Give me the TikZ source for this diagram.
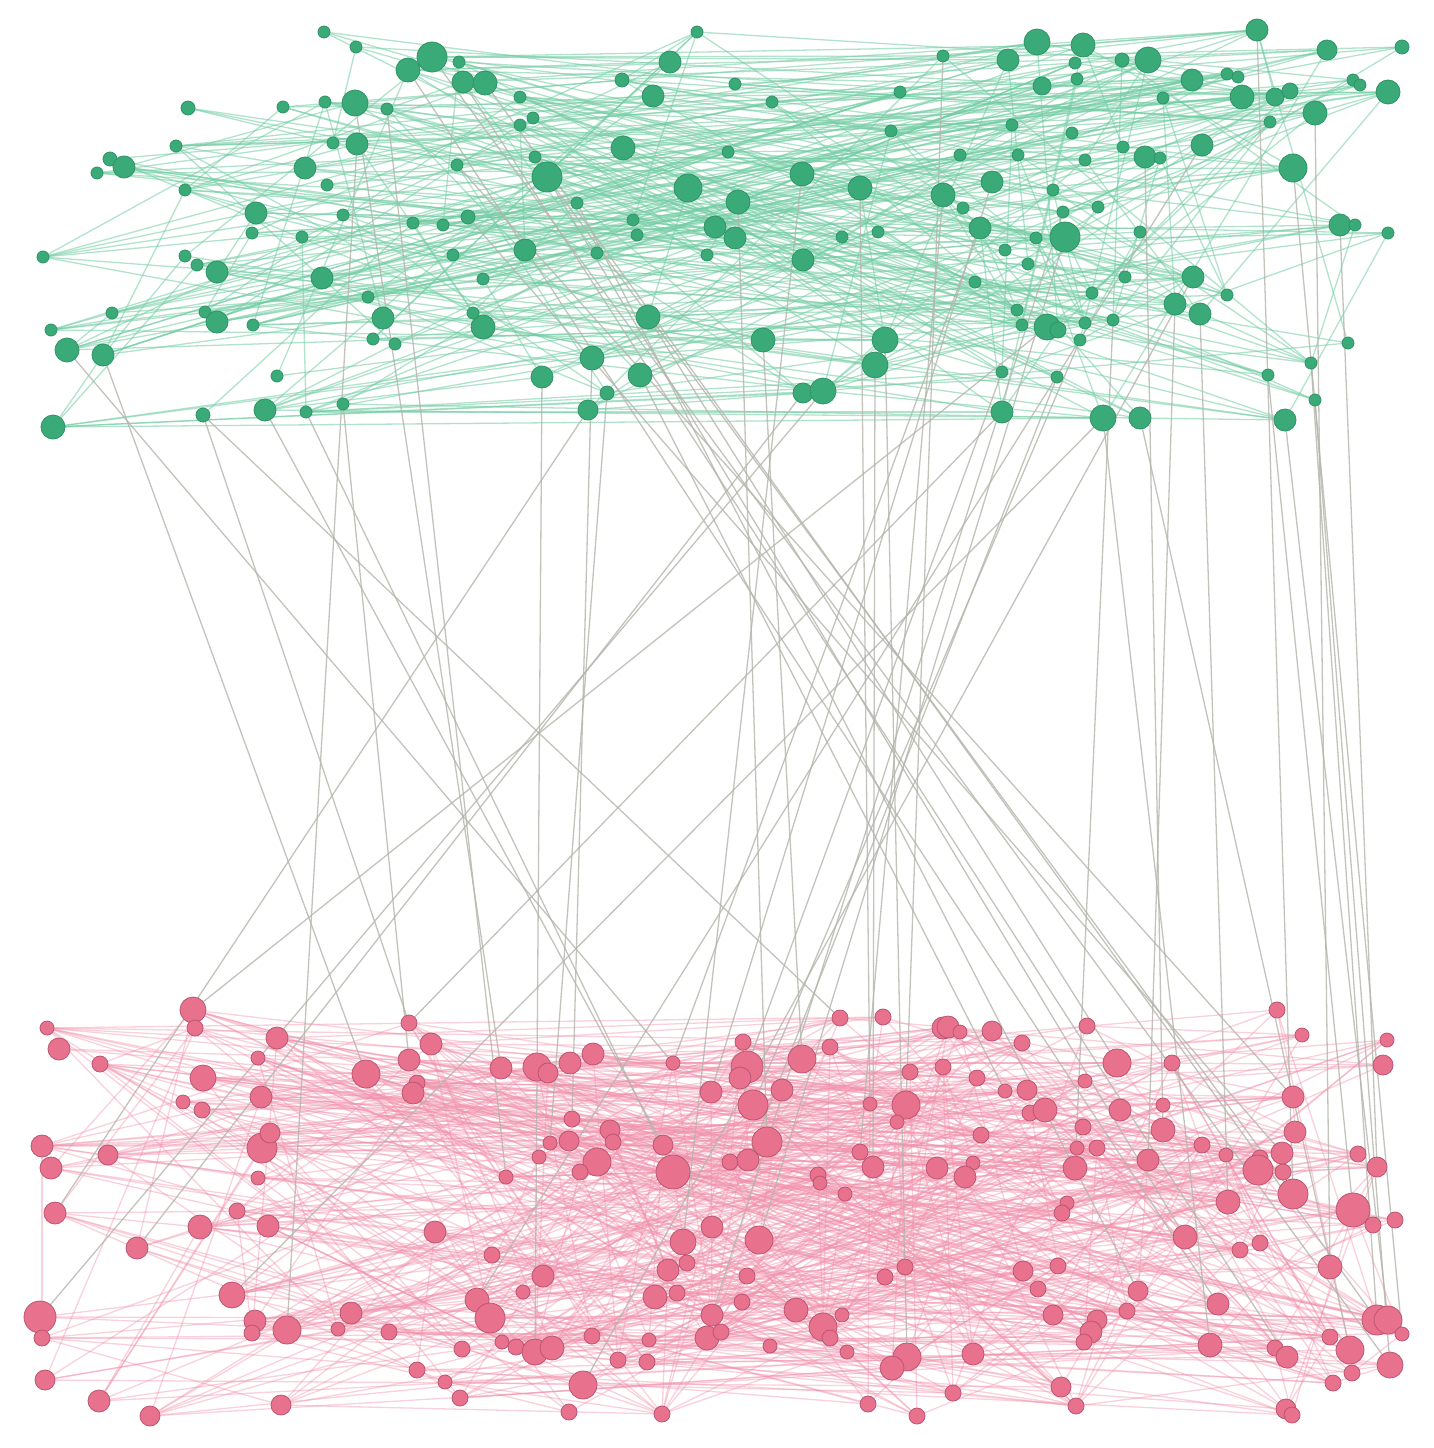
\documentclass[tikz,border=0pt]{standalone}
\pgfdeclarelayer{edgelayer}
\pgfsetlayers{edgelayer,main}
\definecolor{gfill}{HTML}{3AAA78}
\definecolor{gline}{HTML}{2F9465}
\definecolor{pfill}{HTML}{E8728E}
\definecolor{pline}{HTML}{BC5570}
\definecolor{gedgec}{HTML}{72CDA3}
\definecolor{pedgec}{HTML}{F290AB}
\definecolor{xedgec}{HTML}{B4B4AC}
\tikzset{
  gnode/.style={circle,fill=gfill,draw=gline,line width=0.8pt,inner sep=0pt,outer sep=0pt},
  pnode/.style={circle,fill=pfill,draw=pline,line width=0.8pt,inner sep=0pt,outer sep=0pt},
  gedge/.style={draw=gedgec,line width=1.3pt,opacity=0.55},
  pedge/.style={draw=pedgec,line width=1.3pt,opacity=0.42},
  xedge/.style={draw=xedgec,line width=1.3pt,opacity=0.8}
}
\begin{document}
\begin{tikzpicture}[x=1pt,y=-1pt]
\useasboundingbox (0,0) rectangle (1434,1448);
% green layer nodes
\foreach \i/\x/\y/\r in {
1/324/32/6,2/356/47/6,3/432/57/15,4/408/70/12,5/459/62/6,6/463/82/11,7/485/83/12,8/188/108/7,9/283/107/6,10/325/102/6,
11/355/103/13,12/387/109/6,13/176/146/6,14/333/143/6,15/357/144/11,16/110/159/7,17/124/167/11,18/97/173/6,19/305/168/11,20/327/185/6,
21/185/190/6,22/256/213/11,23/343/215/6,24/457/165/6,25/413/223/6,26/443/225/6,27/468/217/7,28/697/32/6,29/670/62/11,30/622/80/7,
31/520/97/6,32/735/84/6,33/772/102/6,34/653/96/11,35/900/92/6,36/943/56/6,37/891/131/6,38/520/125/6,39/533/118/6,40/623/148/12,
41/728/152/6,42/535/157/6,43/547/177/15,44/577/203/6,45/633/220/6,46/688/188/14,47/738/202/12,48/802/174/12,49/860/188/12,50/943/195/12,
51/715/227/11,52/1037/42/13,53/1083/45/12,54/1008/60/11,55/1075/63/6,56/1122/60/7,57/1148/60/13,58/1257/30/11,59/1327/50/10,60/1402/47/7,
61/1192/80/11,62/1227/74/6,63/1238/77/6,64/1042/86/9,65/1077/79/6,66/1163/98/6,67/1242/97/12,68/1275/97/9,69/1290/91/8,70/1353/80/6,
71/1360/85/6,72/1388/92/12,73/1315/113/12,74/1270/122/6,75/1012/125/6,76/1072/133/6,77/960/155/6,78/992/182/11,79/963/208/6,80/1123/147/6,
81/1145/157/11,82/1160/158/6,83/1202/145/11,84/1293/168/14,85/1098/207/6,86/1063/212/6,87/980/228/11,88/1065/237/15,89/1005/250/6,90/1140/232/6,
91/1340/225/11,92/1355/225/6,93/1388/233/6,94/975/282/6,95/1125/277/6,96/1193/277/11,97/1092/293/6,98/1227/295/6,99/1017/310/6,100/1022/325/6,
101/1047/327/13,102/1058/330/8,103/1085/323/6,104/1113/320/6,105/1080/340/6,106/1175/304/11,107/1200/314/11,108/1348/343/6,109/1311/363/6,110/1002/372/6,
111/1057/377/6,112/1268/375/6,113/1315/400/6,114/1002/412/11,115/1103/418/13,116/1140/418/11,117/1285/420/11,118/43/257/6,119/185/256/6,120/197/265/6,
121/217/272/11,122/252/233/6,123/302/237/6,124/322/278/11,125/368/297/6,126/383/318/11,127/373/339/6,128/395/344/6,129/453/255/6,130/112/313/6,
131/51/330/6,132/67/350/12,133/103/355/11,134/205/312/6,135/217/322/11,136/253/325/6,137/277/376/6,138/53/427/12,139/203/415/7,140/265/410/11,
141/306/412/6,142/343/404/6,143/525/250/11,144/597/253/6,145/483/279/6,146/637/235/6,147/707/255/6,148/735/238/11,149/842/237/6,150/803/260/11,
151/483/327/12,152/473/313/6,153/648/317/12,154/763/340/12,155/885/340/13,156/875/365/13,157/592/358/12,158/542/377/11,159/640/375/12,160/607/393/7,
161/588/410/10,162/803/393/10,163/823/391/13,164/878/232/6,165/1036/238/6,166/1028/264/6,167/1018/155/6,168/1053/190/6,169/1085/160/6}
  {\node[gnode,minimum size=2*\r*1pt] (g\i) at (\x,\y) {};}
% pink layer nodes
\foreach \i/\x/\y/\r in {
1/47/1028/7,2/59/1049/11,3/100/1064/8,4/193/1010/13,5/195/1028/8,6/203/1078/13,7/183/1102/7,8/202/1110/8,9/261/1097/11,10/258/1058/7,
11/277/1038/11,12/409/1023/8,13/431/1044/11,14/409/1060/11,15/366/1074/14,16/417/1083/8,17/413/1093/11,18/42/1146/11,19/51/1168/11,20/108/1155/10,
21/262/1148/15,22/270/1133/10,23/258/1178/7,24/55/1213/11,25/237/1211/8,26/501/1068/11,27/537/1067/14,28/548/1073/10,29/570/1063/11,30/593/1054/11,
31/673/1063/7,32/743/1042/8,33/747/1067/16,34/740/1078/11,35/802/1059/14,36/830/1047/8,37/840/1018/8,38/883/1017/8,39/943/1028/11,40/943/1067/8,
41/711/1092/11,42/753/1105/15,43/782/1090/11,44/910/1072/8,45/870/1104/7,46/906/1105/14,47/897/1122/7,48/572/1119/8,49/610/1130/10,50/613/1142/8,
51/569/1141/10,52/550/1143/7,53/539/1157/7,54/597/1162/14,55/580/1172/8,56/506/1177/7,57/663/1145/10,58/673/1172/17,59/767/1142/15,60/730/1162/8,
61/748/1160/11,62/860/1152/8,63/873/1167/11,64/818/1175/8,65/820/1183/7,66/845/1194/7,67/937/1168/11,68/948/1027/11,69/960/1032/7,70/992/1031/10,
71/1022/1043/8,72/1087/1026/8,73/1277/1010/8,74/1302/1035/7,75/1387/1040/7,76/1383/1065/10,77/1117/1063/14,78/1172/1063/8,79/977/1078/8,80/1085/1081/7,
81/1005/1091/7,82/1027/1090/10,83/1030/1113/8,84/1045/1110/12,85/1120/1110/11,86/1163/1105/7,87/1293/1097/11,88/1083/1127/8,89/1163/1130/12,90/1295/1132/11,
91/981/1135/8,92/1077/1148/7,93/1097/1148/8,94/1148/1160/11,95/1202/1145/8,96/1226/1155/7,97/1260/1158/8,98/1282/1153/11,99/1358/1154/8,100/1377/1167/10,
101/1258/1170/15,102/1283/1172/8,103/973/1163/7,104/965/1177/11,105/1075/1168/12,106/1293/1194/15,107/1228/1202/12,108/1353/1210/17,109/1067/1203/7,110/200/1227/12,
111/268/1226/11,112/435/1232/11,113/137/1248/11,114/232/1295/13,115/40/1317/16,116/42/1338/8,117/255/1321/11,118/252/1333/8,119/287/1330/14,120/338/1329/7,
121/351/1313/11,122/389/1332/8,123/462/1349/8,124/417/1370/8,125/445/1382/7,126/460/1398/8,127/45/1380/10,128/99/1401/11,129/150/1416/10,130/281/1405/10,
131/492/1255/8,132/543/1276/11,133/523/1292/7,134/477/1300/12,135/490/1318/15,136/502/1342/7,137/516/1347/8,138/535/1352/13,139/552/1348/12,140/592/1336/8,
141/583/1385/14,142/569/1412/8,143/618/1360/8,144/647/1362/8,145/649/1340/7,146/662/1414/8,147/655/1297/12,148/677/1293/8,149/668/1270/11,150/687/1263/8,
151/683/1242/13,152/712/1227/11,153/759/1240/14,154/747/1276/8,155/742/1302/8,156/712/1315/11,157/707/1338/12,158/721/1332/8,159/770/1346/7,160/796/1310/12,
161/823/1327/14,162/830/1338/8,163/842/1315/7,164/847/1352/7,165/885/1277/8,166/905/1267/8,167/907/1357/14,168/892/1368/12,169/868/1404/8,170/917/1416/8,
171/1062/1213/8,172/1373/1225/8,173/1395/1220/8,174/1185/1237/12,175/1240/1250/8,176/1260/1243/8,177/1330/1267/12,178/1023/1271/10,179/1058/1266/8,180/1038/1289/8,
181/1138/1291/10,182/1053/1315/10,183/1097/1320/10,184/1091/1332/11,185/1084/1342/8,186/1127/1311/8,187/1218/1304/11,188/1377/1320/15,189/1388/1320/14,190/1402/1334/7,
191/1210/1345/12,192/1275/1348/8,193/1287/1357/11,194/1330/1337/8,195/1350/1350/14,196/1390/1365/13,197/1352/1373/8,198/1333/1383/8,199/973/1354/11,200/953/1393/8,
201/1061/1387/10,202/1076/1406/8,203/1286/1409/10,204/1292/1415/8}
  {\node[pnode,minimum size=2*\r*1pt] (p\i) at (\x,\y) {};}
\begin{pgfonlayer}{edgelayer}
\fill[white] (0,0) rectangle (1434,1448);
\pgfmathsetseed{4711}
% green edges
\foreach \i in {1,...,169}{%
  \pgfmathrandominteger{\j}{1}{169}%
  \ifnum\i=\j\relax\else\draw[gedge] (g\i) -- (g\j);\fi}
\foreach \k in {1,...,250}{%
  \pgfmathrandominteger{\i}{1}{169}\pgfmathrandominteger{\j}{1}{169}%
  \ifnum\i=\j\relax\else\draw[gedge] (g\i) -- (g\j);\fi}
\foreach \a/\b in {138/115,140/116,3/36,3/54,36/58,4/29,17/11,138/162,141/114}
  {\draw[gedge] (g\a) -- (g\b);}
% pink edges
\foreach \i in {1,...,204}{%
  \pgfmathrandominteger{\j}{1}{204}%
  \ifnum\i=\j\relax\else\draw[pedge] (p\i) -- (p\j);\fi}
\foreach \k in {1,...,600}{%
  \pgfmathrandominteger{\i}{1}{204}\pgfmathrandominteger{\j}{1}{204}%
  \ifnum\i=\j\relax\else\draw[pedge] (p\i) -- (p\j);\fi}
% between layers
\foreach \a/\b in {132/31,133/15,139/12,139/37,140/57,141/58,15/119,11/26,12/56,142/14,161/24,163/115,115/114,162/113,
  3/196,6/193,7/188,4/187,43/106,42/174,44/181,24/87,27/98,
  157/48,158/138,159/81,153/77,154/35,155/167,156/63,160/52,
  47/59,49/45,50/62,36/46,48/151,
  114/12,101/4,87/31,88/153,78/41,110/33,111/61,86/156,105/42,96/141,
  58/106,73/177,117/189,84/190,107/107,106/94,116/195,115/191,113/196,112/108,109/188,91/100,83/134,81/89,104/105}
  {\draw[xedge] (g\a) -- (p\b);}
\end{pgfonlayer}
\end{tikzpicture}
\end{document}
